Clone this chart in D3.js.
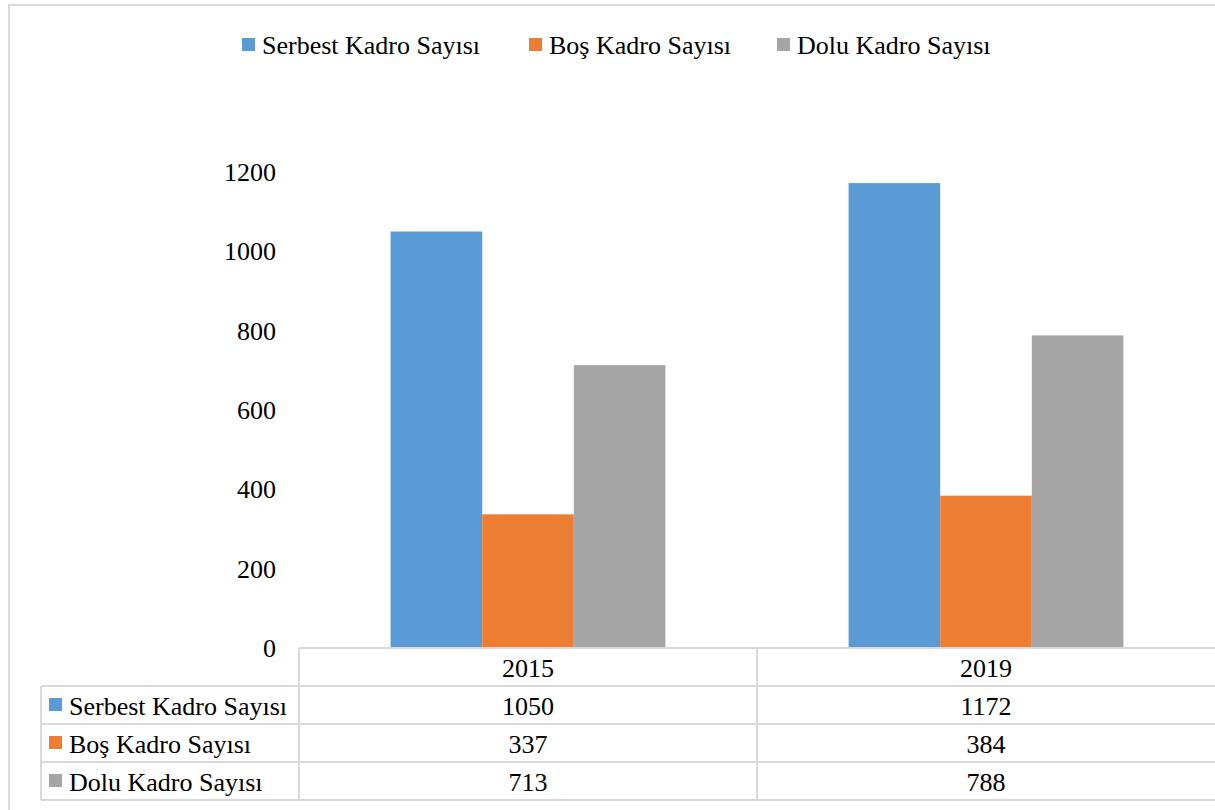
<!DOCTYPE html>
<html>
<head>
<meta charset="utf-8">
<script src="https://cdn.jsdelivr.net/npm/d3@7"></script>
<style>
  body { margin: 0; background: #fff; }
  text { font-family: "Liberation Serif", "Times New Roman", serif; fill: #000; }
</style>
</head>
<body>
<script>
var years = ["2015", "2019"];
var seriesNames = ["Serbest Kadro Sayısı", "Boş Kadro Sayısı", "Dolu Kadro Sayısı"];
var serbest = [1050, 1172];
var bos = [337, 384];
var dolu = [713, 788];
var yTicks = [0, 200, 400, 600, 800, 1000, 1200];
var colors = ["#5B9BD5", "#ED7D31", "#A5A5A5"];

var values = [serbest, bos, dolu];
var width = 1215;
var height = 810;
var fontSize = 26;

var svg = d3
	.select("body")
	.append("svg")
	.attr("width", width)
	.attr("height", height);

// outer chart border
svg.append("rect")
	.attr("x", 9).attr("y", 5)
	.attr("width", width + 20).attr("height", height + 20)
	.style("fill", "none")
	.style("stroke", "#D9D9D9")
	.style("stroke-width", 2);

var x = d3.scaleBand().domain(years).range([299, 1215]);
var xs = d3.scaleBand().domain(seriesNames).range([0, x.bandwidth()]).paddingOuter(1);
var y = d3.scaleLinear().domain([0, 1200]).range([648, 172]);

// y axis labels
svg.selectAll(".ytick")
	.data(yTicks)
	.enter()
	.append("text")
	.attr("class", "ytick")
	.attr("x", 276)
	.attr("y", function (d) { return y(d) + 9; })
	.attr("text-anchor", "end")
	.style("font-size", fontSize + "px")
	.text(function (d) { return d; });

// bars
var groups = svg.selectAll(".grp")
	.data(years)
	.enter()
	.append("g")
	.attr("transform", function (d) { return "translate(" + x(d) + ",0)"; });

groups.selectAll("rect")
	.data(function (d, i) {
		return seriesNames.map(function (s, j) { return { s: s, v: values[j][i], c: colors[j] }; });
	})
	.enter()
	.append("rect")
	.attr("x", function (d) { return xs(d.s); })
	.attr("width", xs.bandwidth())
	.attr("y", function (d) { return y(d.v); })
	.attr("height", function (d) { return y(0) - y(d.v); })
	.style("fill", function (d) { return d.c; });

// legend
var legendX = [242, 529, 777];
var legend = svg.selectAll(".leg")
	.data(seriesNames)
	.enter()
	.append("g")
	.attr("transform", function (d, i) { return "translate(" + legendX[i] + ",0)"; });
legend.append("rect")
	.attr("x", 0).attr("y", 38)
	.attr("width", 13).attr("height", 13)
	.style("fill", function (d, i) { return colors[i]; });
legend.append("text")
	.attr("x", 20).attr("y", 54)
	.style("font-size", fontSize + "px")
	.text(function (d) { return d; });

// data table
var rowTop = 648, rowH = 38, tableLeft = 41;
var lineStyle = function (sel) {
	return sel.style("stroke", "#D9D9D9").style("stroke-width", 2);
};
// horizontal lines
lineStyle(svg.append("line").attr("x1", 299).attr("x2", width).attr("y1", rowTop).attr("y2", rowTop));
for (var r = 1; r <= 4; r++) {
	lineStyle(svg.append("line")
		.attr("x1", tableLeft).attr("x2", width)
		.attr("y1", rowTop + r * rowH).attr("y2", rowTop + r * rowH));
}
// vertical lines
lineStyle(svg.append("line").attr("x1", tableLeft).attr("x2", tableLeft).attr("y1", rowTop + rowH).attr("y2", rowTop + 4 * rowH));
years.forEach(function (yr) {
	lineStyle(svg.append("line").attr("x1", x(yr)).attr("x2", x(yr)).attr("y1", rowTop).attr("y2", rowTop + 4 * rowH));
});

// header
svg.selectAll(".yearlab")
	.data(years)
	.enter()
	.append("text")
	.attr("x", function (d) { return x(d) + x.bandwidth() / 2; })
	.attr("y", rowTop + 29)
	.attr("text-anchor", "middle")
	.style("font-size", fontSize + "px")
	.text(function (d) { return d; });

// rows
seriesNames.forEach(function (s, j) {
	var ty = rowTop + (j + 1) * rowH;
	svg.append("rect")
		.attr("x", 49).attr("y", ty + 12)
		.attr("width", 13).attr("height", 13)
		.style("fill", colors[j]);
	svg.append("text")
		.attr("x", 69).attr("y", ty + 29)
		.style("font-size", fontSize + "px")
		.text(s);
	years.forEach(function (yr, i) {
		svg.append("text")
			.attr("x", x(yr) + x.bandwidth() / 2)
			.attr("y", ty + 29)
			.attr("text-anchor", "middle")
			.style("font-size", fontSize + "px")
			.text(values[j][i]);
	});
});
</script>
</body>
</html>
